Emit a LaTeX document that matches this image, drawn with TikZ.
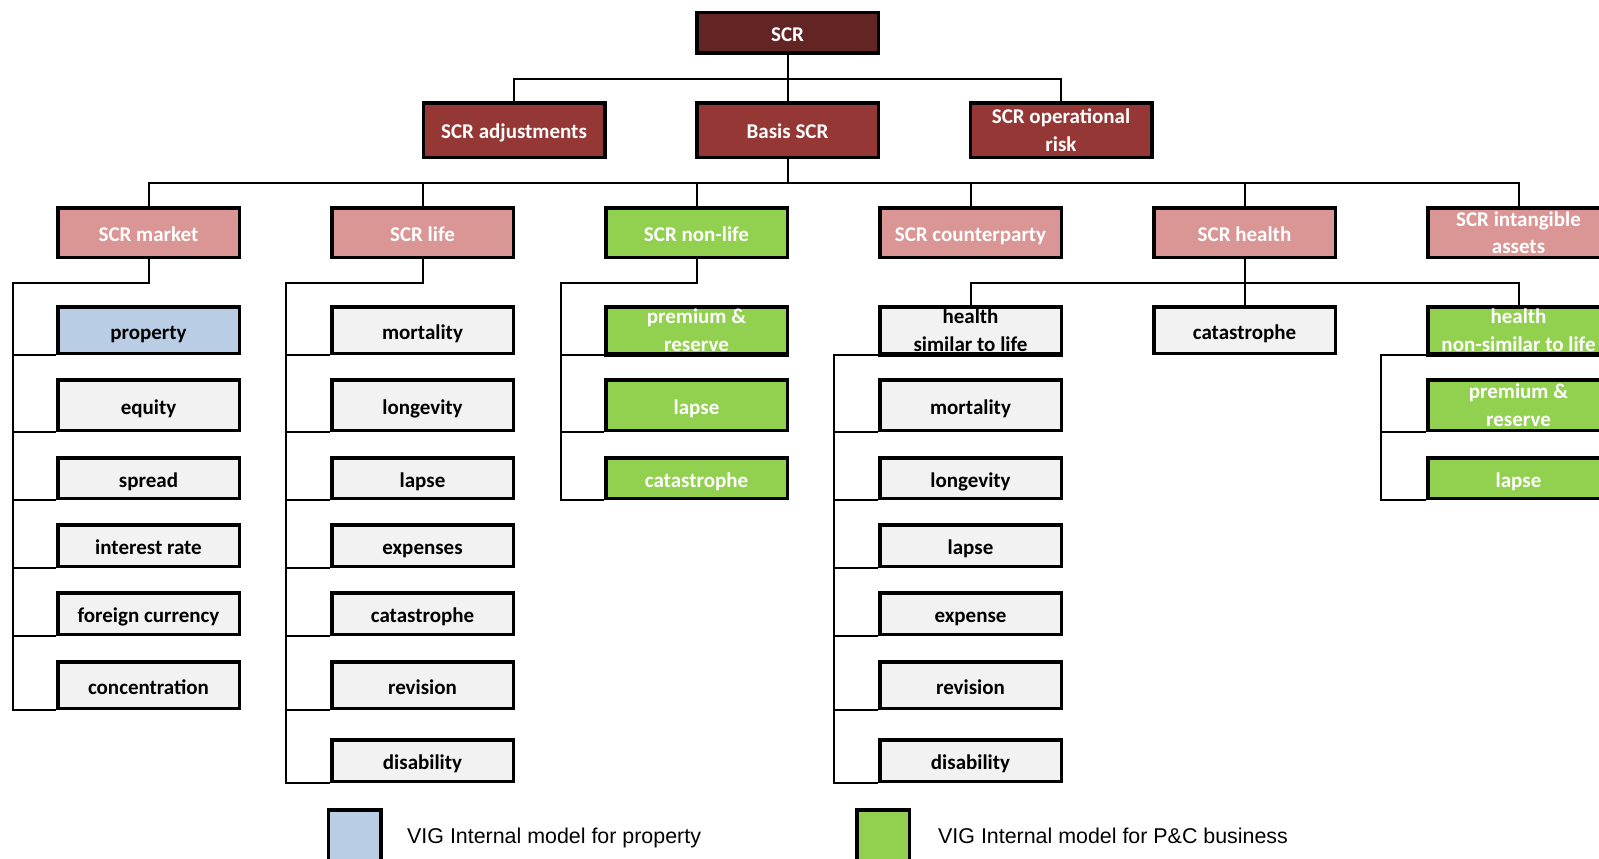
\documentclass[tikz,border=0pt]{standalone}
\usepackage{fontspec}
\setmainfont{Carlito}
\newfontfamily\legendfont{Liberation Sans}
\usepackage{xcolor}
\usepackage{tikz}
\usetikzlibrary{calc}

\definecolor{scrtop}{HTML}{632523}
\definecolor{scrmain}{HTML}{953735}
\definecolor{scrrisk}{HTML}{D99694}
\definecolor{imgreen}{HTML}{92D050}
\definecolor{improp}{HTML}{B9CDE5}
\definecolor{subgrey}{HTML}{F2F2F2}

\begin{document}
\begin{tikzpicture}[x=1pt,y=-1pt,
  box/.style={rectangle,draw=black,line width=3.5pt,minimum width=181.5pt,inner sep=0pt,align=center,
    text height=23pt,text depth=5pt,font=\fontsize{21}{27.5}\selectfont\bfseries},
  two/.style={text height={},text depth=-4pt},
  topbox/.style={box,fill=scrtop,text=white},
  mainbox/.style={box,fill=scrmain,text=white},
  riskbox/.style={box,fill=scrrisk,text=white},
  imbox/.style={box,fill=imgreen,text=white},
  propbox/.style={box,fill=improp},
  subbox/.style={box,fill=subgrey},
  rA/.style={minimum height=46.5pt},
  rB/.style={minimum height=50.5pt},
  rC/.style={minimum height=40.5pt},
  rD/.style={minimum height=41.5pt},
  rE/.style={minimum height=41.5pt},
  rF/.style={minimum height=46.5pt},
  rG/.style={minimum height=41.5pt},
  link/.style={line width=2pt},
  legsq/.style={rectangle,draw=black,line width=3.5pt,minimum width=52.5pt,minimum height=60pt,inner sep=0pt},
  legtext/.style={anchor=west,inner sep=0pt,text height=16pt,text depth=5pt,font=\legendfont\fontsize{21.4}{26}\selectfont}
]
  \useasboundingbox (0,0) rectangle (1599,859);

  % top levels
  \node[topbox,minimum height=40.5pt] (scr) at (787.5,33) {SCR};
  \node[mainbox,minimum height=54.5pt] (adj) at (514,130) {SCR adjustments};
  \node[mainbox,minimum height=54.5pt] (basis) at (787.5,130) {Basis SCR};
  \node[mainbox,two,minimum height=54.5pt] (oprisk) at (1061,130) {SCR operational\\risk};

  \node[riskbox,minimum height=49.5pt] (market) at (148.5,232.5) {SCR market};
  \node[riskbox,minimum height=49.5pt] (life) at (422.5,232.5) {SCR life};
  \node[imbox,minimum height=49.5pt] (nonlife) at (696.5,232.5) {SCR non-life};
  \node[riskbox,minimum height=49.5pt] (cpty) at (970.5,232.5) {SCR counterparty};
  \node[riskbox,minimum height=49.5pt] (health) at (1244.5,232.5) {SCR health};
  \node[riskbox,two,minimum height=49.5pt] (intang) at (1518.5,232.5) {SCR intangible\\assets};

  % market
  \node[propbox,rA] (mprop) at (148.5,330) {property};
  \node[subbox,rB] (mequity) at (148.5,405) {equity};
  \node[subbox,rC] (mspread) at (148.5,478) {spread};
  \node[subbox,rD] (mint) at (148.5,545.5) {interest rate};
  \node[subbox,rE] (mfx) at (148.5,613.5) {foreign currency};
  \node[subbox,rF] (mconc) at (148.5,685) {concentration};

  % life
  \node[subbox,rA] (lmort) at (422.5,330) {mortality};
  \node[subbox,rB] (llong) at (422.5,405) {longevity};
  \node[subbox,rC] (llapse) at (422.5,478) {lapse};
  \node[subbox,rD] (lexp) at (422.5,545.5) {expenses};
  \node[subbox,rE] (lcat) at (422.5,613.5) {catastrophe};
  \node[subbox,rF] (lrev) at (422.5,685) {revision};
  \node[subbox,rG] (ldis) at (422.5,760.5) {disability};

  % non-life
  \node[imbox,two,rA] (nprem) at (696.5,330) {premium \&\\reserve};
  \node[imbox,rB] (nlapse) at (696.5,405) {lapse};
  \node[imbox,rC] (ncat) at (696.5,478) {catastrophe};

  % health
  \node[subbox,two,rA] (hsim) at (970.5,330) {health\\similar to life};
  \node[subbox,rA] (hcat) at (1244.5,330) {catastrophe};
  \node[imbox,two,rA] (hnon) at (1518.5,330) {health\\non-similar to life};
  \node[subbox,rB] (hmort) at (970.5,405) {mortality};
  \node[subbox,rC] (hlong) at (970.5,478) {longevity};
  \node[subbox,rD] (hlapse) at (970.5,545.5) {lapse};
  \node[subbox,rE] (hexp) at (970.5,613.5) {expense};
  \node[subbox,rF] (hrev) at (970.5,685) {revision};
  \node[subbox,rG] (hdis) at (970.5,760.5) {disability};
  \node[imbox,two,rB] (hnprem) at (1518.5,405) {premium \&\\reserve};
  \node[imbox,rC] (hnlapse) at (1518.5,478) {lapse};

  % text runs past the lower edge of these boxes
  \foreach \n in {nprem,hsim,hnon}
    \draw[line width=3.5pt] (\n.south west) -- (\n.south east);

  % connectors
  \coordinate (bus1) at (787.5,79);
  \coordinate (bus2) at (787.5,183);
  \draw[link] (scr) -- (basis);
  \draw[link] (adj.north) |- (bus1) -| (oprisk.north);
  \draw[link] (basis.south) -- (bus2);
  \draw[link] (market.north) |- (bus2) -| (intang.north);
  \foreach \n in {life,nonlife,cpty,health}
    \draw[link] (\n.north) -- (\n.north |- bus2);

  \coordinate (mk) at (13,283);
  \draw[link] (market.south) |- (mk) |- (mconc.south west);
  \foreach \n in {mprop,mequity,mspread,mint,mfx}
    \draw[link] (\n.south west) -| (mk);

  \coordinate (lf) at (286,283);
  \draw[link] (life.south) |- (lf) |- (ldis.south west);
  \foreach \n in {lmort,llong,llapse,lexp,lcat,lrev}
    \draw[link] (\n.south west) -| (lf);

  \coordinate (nl) at (561,283);
  \draw[link] (nonlife.south) |- (nl) |- (ncat.south west);
  \foreach \n in {nprem,nlapse}
    \draw[link] (\n.south west) -| (nl);

  \coordinate (hb) at (1244.5,283);
  \draw[link] (health.south) -- (hcat.north);
  \draw[link] (hsim.north) |- (hb) -| (hnon.north);

  \draw[link] (hsim.south west) -- ++(-44,0) coordinate (hs) |- (hdis.south west);
  \foreach \n in {hmort,hlong,hlapse,hexp,hrev}
    \draw[link] (\n.south west) -| (hs);

  \draw[link] (hnon.south west) -- ++(-45,0) coordinate (hn) |- (hnlapse.south west);
  \draw[link] (hnprem.south west) -| (hn);

  % legend
  \node[legsq,fill=improp] (legprop) at (354.5,840) {};
  \node[legtext] (legproptext) at (407,837.5) {VIG Internal model for property};
  \node[legsq,fill=imgreen] (legpc) at (883,840) {};
  \node[legtext] (legpctext) at (938,837.5) {VIG Internal model for P\&C business};
\end{tikzpicture}
\end{document}
